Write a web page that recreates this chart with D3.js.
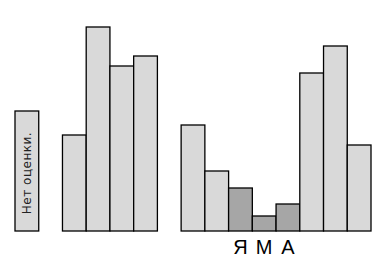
<!DOCTYPE html>
<html>
<head>
<meta charset="utf-8">
<script src="https://cdn.jsdelivr.net/npm/d3@7"></script>
<style>
  body { margin: 0; background: #fff; }
</style>
</head>
<body>
<svg></svg>
<script>
var w = 385, h = 265;

// slots: "none" bar, gap, group 1 (4 bars), gap, group 2 (8 bars)
var noneValue = [120];
var group1 = [96, 204, 165, 175];
var group2 = [106, 60, 43, 15, 27, 158, 185, 86];
var darkIdx = [2, 3, 4];          // bars in group 2 that are darker
var darkLabels = ["Я", "М", "А"];
var noneLabel = "Нет оценки.";

var slots = [];
slots.push({key: "n0", v: noneValue[0], dark: false});
slots.push({key: "gap1", v: null});
group1.forEach((v, i) => slots.push({key: "a" + i, v: v, dark: false}));
slots.push({key: "gap2", v: null});
group2.forEach((v, i) => slots.push({key: "b" + i, v: v, dark: darkIdx.indexOf(i) >= 0, lab: darkLabels[darkIdx.indexOf(i)]}));

var svg = d3.select("svg").attr("width", w).attr("height", h);

var x = d3.scaleBand().domain(slots.map(d => d.key)).range([15, 371]).padding(0);
var y = d3.scaleLinear().domain([0, 204]).range([231, 27]);

var bars = slots.filter(d => d.v != null);

svg.selectAll("rect.bar").data(bars).enter().append("rect")
  .attr("class", "bar")
  .attr("x", d => x(d.key))
  .attr("y", d => y(d.v))
  .attr("width", x.bandwidth())
  .attr("height", d => y(0) - y(d.v))
  .attr("fill", d => d.dark ? "#a6a6a6" : "#d9d9d9")
  .attr("stroke", "#000")
  .attr("stroke-width", 1.3);

// rotated label inside the "no rating" bar
var cx = x("n0") + x.bandwidth() / 2;
svg.append("text")
  .attr("transform", "translate(" + (cx + 4) + "," + ((y(noneValue[0]) + y(0)) / 2 + 2) + ") rotate(-90)")
  .attr("text-anchor", "middle")
  .attr("font-family", "'DejaVu Sans', sans-serif")
  .attr("font-size", 12)
  .attr("letter-spacing", 0.5)
  .attr("fill", "#222")
  .text(noneLabel);

svg.selectAll("text.lab").data(bars.filter(d => d.dark)).enter().append("text")
  .attr("class", "lab")
  .attr("x", d => x(d.key) + x.bandwidth() / 2)
  .attr("y", 254)
  .attr("text-anchor", "middle")
  .attr("font-family", "'Liberation Sans', Arial, sans-serif")
  .attr("font-size", 20)
  .attr("fill", "#000")
  .text(d => d.lab);
</script>
</body>
</html>
